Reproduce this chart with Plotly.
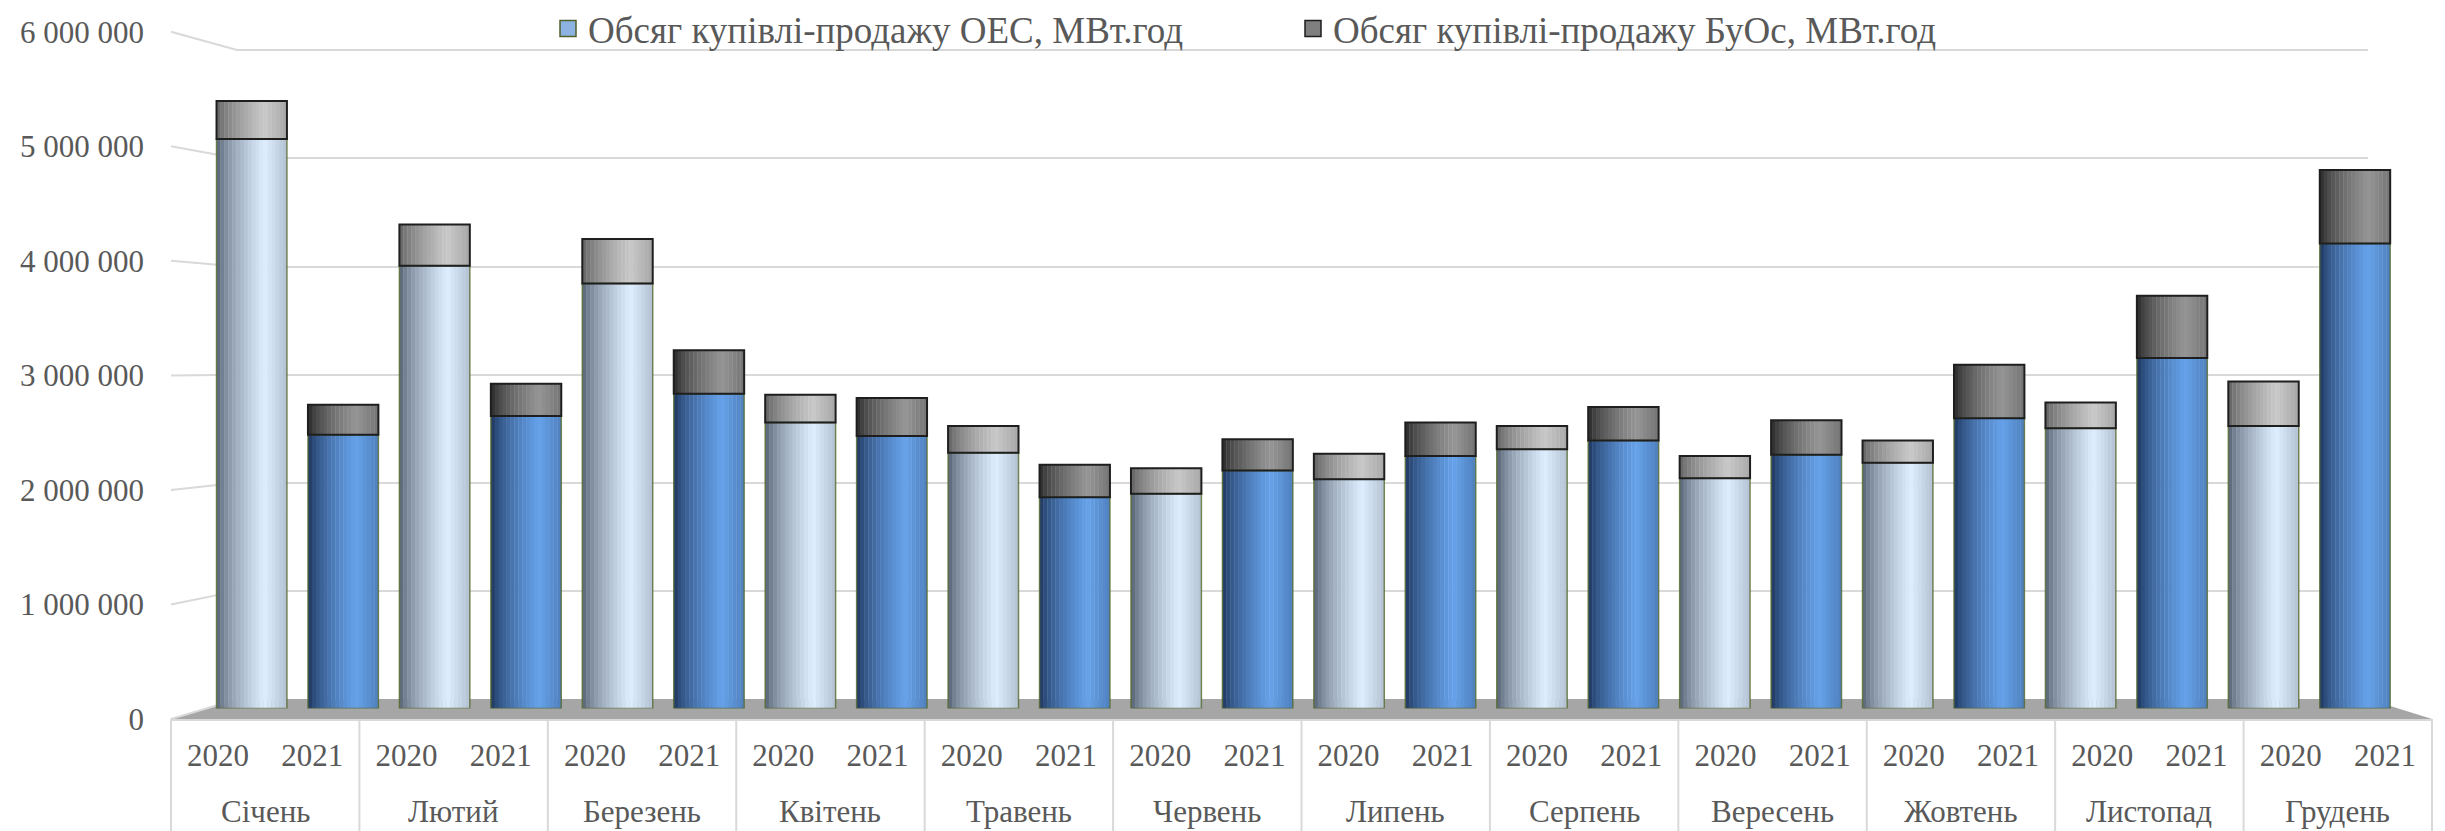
import plotly.graph_objects as go

# ---------------- data ----------------
months = ["Січень", "Лютий", "Березень", "Квітень", "Травень", "Червень",
          "Липень", "Серпень", "Вересень", "Жовтень", "Листопад", "Грудень"]
years = ["2020", "2021"]

oes_2020 = [5120000, 3980000, 3820000, 2570000, 2300000, 1930000,
            2060000, 2330000, 2070000, 2210000, 2520000, 2540000]
buos_2020 = [340000, 370000, 400000, 250000, 240000, 230000,
             230000, 210000, 200000, 200000, 230000, 400000]
oes_2021 = [2460000, 2630000, 2830000, 2450000, 1900000, 2140000,
            2270000, 2410000, 2280000, 2610000, 3150000, 4180000]
buos_2021 = [270000, 290000, 390000, 340000, 290000, 280000,
             300000, 300000, 310000, 480000, 560000, 660000]

series_names = ["Обсяг купівлі-продажу ОЕС, МВт.год",
                "Обсяг купівлі-продажу БуОс, МВт.год"]
y_ticks = [0, 1000000, 2000000, 3000000, 4000000, 5000000, 6000000]
Y_MAX = 6000000

# ---------------- build interleaved arrays ----------------
x_month, x_year, oes, buos = [], [], [], []
for i, m in enumerate(months):
    for yr, o, b in ((years[0], oes_2020[i], buos_2020[i]),
                     (years[1], oes_2021[i], buos_2021[i])):
        x_month.append(m)
        x_year.append(yr)
        oes.append(o)
        buos.append(b)
X = [x_month, x_year]
slots = list(range(len(x_year)))

# ---------------- geometry (pseudo-3D planes, page pixels) ----------------
OFF = 8                      # default body margin of the html page
FW, FH = 2437, 823           # figure size so the page spans 2445 x 831


def px(p):
    return (p - OFF) / FW


def py(p):
    return 1 - (p - OFF) / FH


def ydom(y0, y6, top):
    scale = (y0 - y6) / Y_MAX
    return [py(y0), py(y0 - scale * top)]


FRONT_X = [px(171), px(2432)]
BACK_X = [px(238), px(2368)]
MID_X = [px(206), px(2400.7)]
FRONT_PX = (719, 31.8)
BACK_PX = (699, 50.3)
MID_PX = (708.5, 41)
BACK_TOP = 6100000

FONT = "Liberation Serif"
TXT = "#595959"
GRID = "#d9d9d9"

# ---------------- cylinder shading ----------------
PAL = {
    ("oes", "2020"): ((78, 90, 108), (222, 238, 255)),
    ("oes", "2021"): ((26, 48, 86), (102, 162, 234)),
    ("buos", "2020"): ((92, 92, 92), (200, 200, 200)),
    ("buos", "2021"): ((36, 36, 36), (150, 150, 150)),
}


def shade(t):
    peak = 0.68
    if t <= peak:
        return (t / peak) ** 0.65
    return 1 - 0.3 * ((t - peak) / (1 - peak))


def mix(c0, c1, f):
    return "rgb(%d,%d,%d)" % tuple(round(a + (b - a) * f) for a, b in zip(c0, c1))


fig = go.Figure()

# legend-only entries (on back-wall subplot)
fig.add_trace(go.Scatter(x=[None], y=[None], name=series_names[0], mode="markers",
                         marker=dict(symbol="square", size=16, color="#8db3e2",
                                     line=dict(color="#4f6228", width=1.5)),
                         xaxis="x", yaxis="y"))
fig.add_trace(go.Scatter(x=[None], y=[None], name=series_names[1], mode="markers",
                         marker=dict(symbol="square", size=16, color="#7f7f7f",
                                     line=dict(color="#1e1e1e", width=1.5)),
                         xaxis="x", yaxis="y"))
# front-plane label subplot holder
fig.add_trace(go.Scatter(x=[None], y=[None], xaxis="x2", yaxis="y2",
                         showlegend=False, hoverinfo="skip"))

# shaded cylinder strips
N = 18
BW = 0.77
for k in range(N):
    t = (k + 0.5) / N
    f = shade(t)
    wdt = BW / N + (0.004 if k < N - 1 else 0)
    off = -BW / 2 + k * BW / N
    fig.add_trace(go.Bar(
        x=X, y=oes, width=wdt, offset=off,
        marker=dict(color=[mix(*PAL[("oes", yr)], f) for yr in x_year], line=dict(width=0)),
        xaxis="x3", yaxis="y3", showlegend=False, hoverinfo="skip"))
    fig.add_trace(go.Bar(
        x=X, y=buos, base=oes, width=wdt, offset=off,
        marker=dict(color=[mix(*PAL[("buos", yr)], f) for yr in x_year], line=dict(width=0)),
        xaxis="x3", yaxis="y3", showlegend=False, hoverinfo="skip"))

# outlines
fig.add_trace(go.Bar(x=X, y=oes, width=BW, offset=-BW / 2,
                     marker=dict(color="rgba(0,0,0,0)", line=dict(color="rgba(85,105,45,0.8)", width=1.5)),
                     xaxis="x3", yaxis="y3", showlegend=False, hoverinfo="skip"))
fig.add_trace(go.Bar(x=X, y=buos, base=oes, width=BW, offset=-BW / 2,
                     marker=dict(color="rgba(0,0,0,0)", line=dict(color="#1e1e1e", width=2)),
                     xaxis="x3", yaxis="y3", showlegend=False, hoverinfo="skip"))

# ---------------- decorative 3D frame ----------------
def fy(v):
    y0, y6 = FRONT_PX
    return py(y0 - (y0 - y6) * v / Y_MAX)


def by(v):
    y0, y6 = BACK_PX
    return py(y0 - (y0 - y6) * v / Y_MAX)


shapes = [dict(
    type="path", xref="paper", yref="paper", layer="below",
    path=f"M {FRONT_X[0]},{fy(0)} L {BACK_X[0]},{by(0)} L {BACK_X[1]},{by(0)} L {FRONT_X[1]},{fy(0)} Z",
    fillcolor="#a6a6a6", line=dict(width=0))]
for v in y_ticks:
    shapes.append(dict(type="line", xref="paper", yref="paper", layer="below",
                       x0=FRONT_X[0], y0=fy(v), x1=BACK_X[0], y1=by(v),
                       line=dict(color=GRID, width=2)))
# month group dividers on the category axis
for j in range(len(months) + 1):
    xd = FRONT_X[0] + (FRONT_X[1] - FRONT_X[0]) * j / len(months)
    shapes.append(dict(type="line", xref="paper", yref="paper", layer="below",
                       x0=xd, x1=xd, y0=fy(0), y1=py(835),
                       line=dict(color=GRID, width=2)))

tickfont = dict(family=FONT, size=31, color=TXT)

# month labels (second tier) centred in each month group
annotations = []
for i, m in enumerate(months):
    annotations.append(dict(
        text=m, xref="paper", yref="paper", showarrow=False,
        x=FRONT_X[0] + (FRONT_X[1] - FRONT_X[0]) * (i + 0.5) / len(months),
        y=py(811), xanchor="center", yanchor="middle", font=tickfont))

fig.update_layout(
    width=FW, height=FH, autosize=False,
    margin=dict(l=0, r=0, t=0, b=0, autoexpand=False),
    paper_bgcolor="white", plot_bgcolor="rgba(0,0,0,0)",
    barmode="overlay",
    separators=". ",
    font=dict(family=FONT, size=31, color=TXT),
    shapes=shapes,
    annotations=annotations,
    showlegend=True,
    legend=dict(orientation="h", x=px(548), xanchor="left",
                y=py(29), yanchor="middle", entrywidth=700, entrywidthmode="pixels",
                font=dict(family=FONT, size=37, color=TXT),
                bgcolor="rgba(0,0,0,0)", traceorder="normal"),
    # back wall (gridlines)
    xaxis=dict(domain=BACK_X, range=[0, 1], anchor="y", visible=False),
    yaxis=dict(domain=ydom(*BACK_PX, BACK_TOP), range=[0, BACK_TOP], anchor="x",
               tickvals=y_ticks, showgrid=True, gridcolor=GRID, gridwidth=2,
               showticklabels=False, zeroline=False, showline=False, ticks=""),
    # front plane (labels)
    xaxis2=dict(domain=FRONT_X, anchor="y2", range=[-0.5, len(slots) - 0.5],
                tickvals=slots, ticktext=x_year,
                showline=True, linecolor=GRID, linewidth=2,
                ticks="", tickfont=tickfont, ticklabelstandoff=8,
                showgrid=False, zeroline=False, automargin=False),
    yaxis2=dict(domain=ydom(*FRONT_PX, Y_MAX), range=[0, Y_MAX], anchor="x2", tickvals=y_ticks,
                tickformat=",d", ticks="", showgrid=False, zeroline=False, showline=False,
                tickfont=tickfont, ticklabelstandoff=26, automargin=False),
    # middle plane (bars)
    xaxis3=dict(domain=MID_X, type="multicategory", anchor="y3", range=[-0.5, 23.5],
                visible=False),
    yaxis3=dict(domain=ydom(*MID_PX, Y_MAX), range=[0, Y_MAX], anchor="x3", visible=False),
)

fig.write_html("out.html")
